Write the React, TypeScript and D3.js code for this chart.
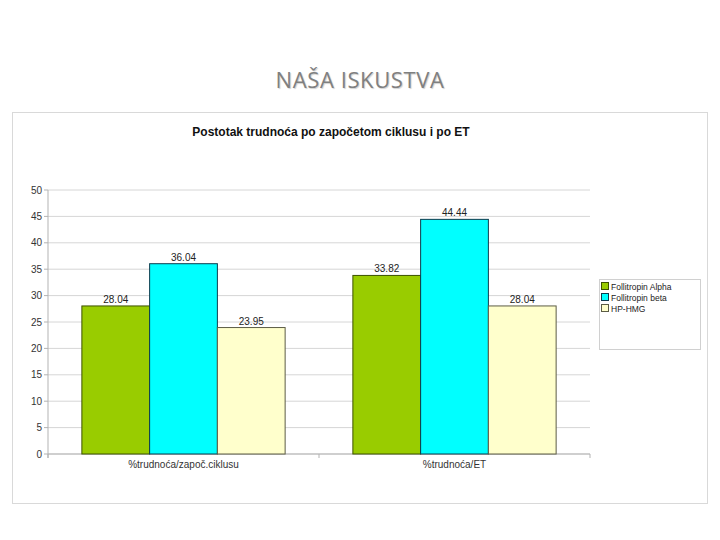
import { useMemo } from "react";
import { scaleLinear, scaleBand } from "d3";

const categories = ["%trudnoća/započ.ciklusu", "%trudnoća/ET"];
const seriesNames = ["Follitropin Alpha", "Follitropin beta", "HP-HMG"];
const alphaValues = [28.04, 33.82];
const betaValues = [36.04, 44.44];
const hmgValues = [23.95, 28.04];
const yTicks = [0, 5, 10, 15, 20, 25, 30, 35, 40, 45, 50];

const fills = ["#99cc00", "#00ffff", "#ffffcc"];
const strokes = ["#3d5200", "#0d3b4d", "#5c5c45"];

const W = 720;
const H = 540;
const plot = { left: 48, right: 590, top: 190, bottom: 454 };

export default function App() {
  const series = [alphaValues, betaValues, hmgValues];

  const { x, inner, y } = useMemo(() => {
    const x = scaleBand<string>()
      .domain(categories)
      .range([plot.left, plot.right])
      .paddingInner(0)
      .paddingOuter(0);
    const inner = scaleBand<string>()
      .domain(seriesNames)
      .range([x.bandwidth() * 0.125, x.bandwidth() * 0.875]);
    const y = scaleLinear().domain([0, 50]).range([plot.bottom, plot.top]);
    return { x, inner, y };
  }, []);

  const font = "Arial, 'Liberation Sans', sans-serif";

  return (
    <svg
      width={W}
      height={H}
      style={{ position: "absolute", left: 0, top: 0, background: "#fff" }}
      fontFamily={font}
    >
      <text
        x={360}
        y={88}
        textAnchor="middle"
        fontFamily="'Open Sans', sans-serif"
        fontSize={22}
        letterSpacing={0.6}
        fill="#808080"
        style={{ textShadow: "1px 1px 1px #d0d0d0" }}
      >
        NAŠA ISKUSTVA
      </text>

      <rect x={12.5} y={112.5} width={695} height={391} fill="#fff" stroke="#d9d9d9" />

      <text x={331} y={136} textAnchor="middle" fontSize={12} fontWeight="bold" fill="#111">
        Postotak trudnoća po započetom ciklusu i po ET
      </text>

      {yTicks.map((t) => (
        <g key={t}>
          <line x1={plot.left} x2={plot.right} y1={y(t)} y2={y(t)} stroke="#d6d6d6" />
          <line x1={plot.left - 4} x2={plot.left} y1={y(t)} y2={y(t)} stroke="#b3b3b3" />
          <text x={plot.left - 6} y={y(t) + 3.5} textAnchor="end" fontSize={10} fill="#333">
            {t}
          </text>
        </g>
      ))}
      <line x1={plot.left} x2={plot.left} y1={plot.top} y2={plot.bottom + 4} stroke="#b3b3b3" />
      <line x1={plot.left} x2={plot.right} y1={plot.bottom} y2={plot.bottom} stroke="#b3b3b3" />
      {[...categories.map((c) => x(c) as number), plot.right].map((px, i) => (
        <line key={i} x1={px} x2={px} y1={plot.bottom} y2={plot.bottom + 4} stroke="#b3b3b3" />
      ))}

      {categories.map((c, ci) => (
        <g key={c} transform={`translate(${x(c)},0)`}>
          {series.map((vals, si) => {
            const bx = inner(seriesNames[si]) as number;
            const bw = inner.bandwidth();
            const v = vals[ci];
            return (
              <g key={si}>
                <rect
                  x={bx}
                  y={y(v)}
                  width={bw}
                  height={y(0) - y(v)}
                  fill={fills[si]}
                  stroke={strokes[si]}
                  strokeWidth={1}
                />
                <text x={bx + bw / 2} y={y(v) - 3} textAnchor="middle" fontSize={10} fill="#222">
                  {v.toFixed(2)}
                </text>
              </g>
            );
          })}
          <text
            x={x.bandwidth() / 2}
            y={plot.bottom + 14}
            textAnchor="middle"
            fontSize={10}
            fill="#333"
          >
            {c}
          </text>
        </g>
      ))}

      <rect x={599.5} y={279.5} width={101} height={70} fill="#fff" stroke="#d0d0d0" />
      {seriesNames.map((n, i) => (
        <g key={n} transform={`translate(601,${282 + i * 11})`}>
          <rect x={0.5} y={0.5} width={7} height={7} fill={fills[i]} stroke={strokes[i]} />
          <text x={10} y={7.5} fontSize={8.5} fill="#222">
            {n}
          </text>
        </g>
      ))}
    </svg>
  );
}
